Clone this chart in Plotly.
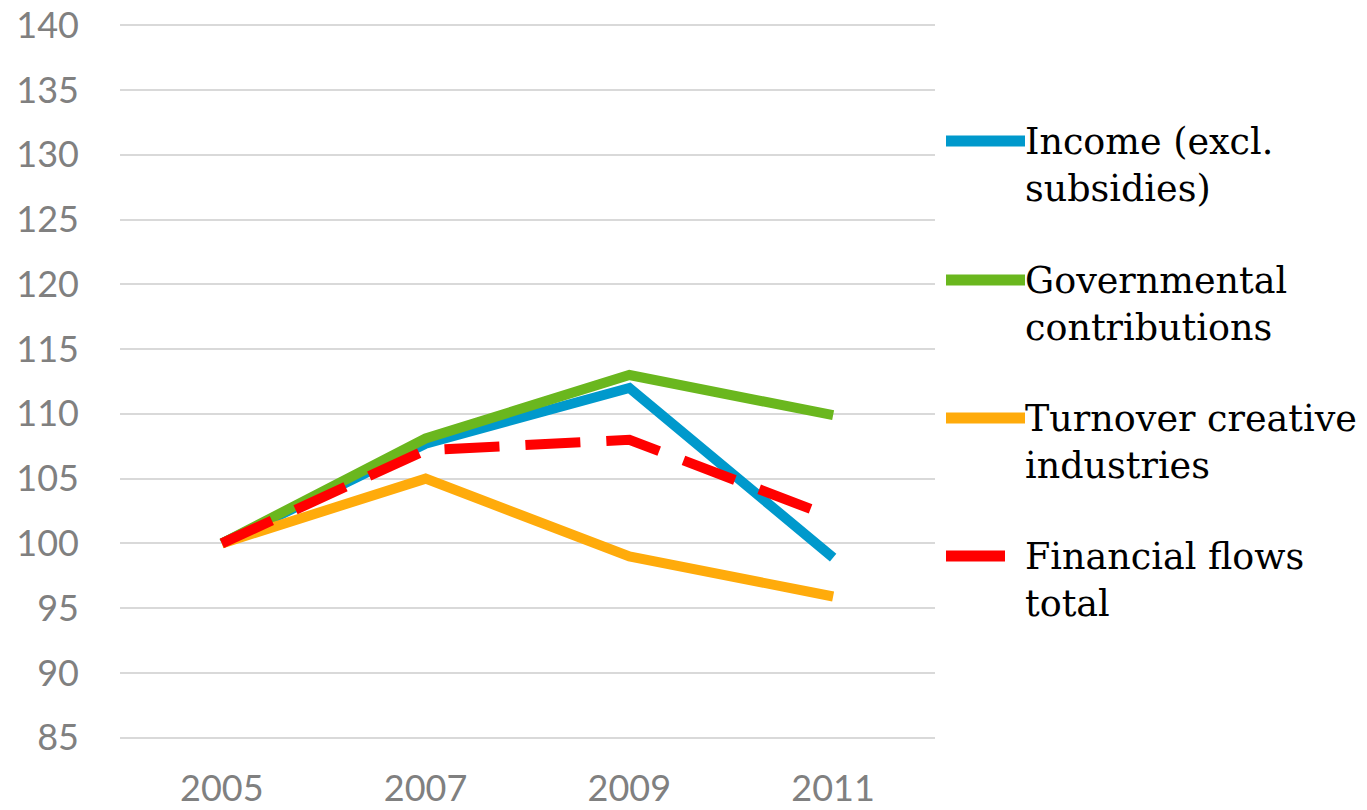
import plotly.graph_objects as go

# Index values (2005 = 100)
years = ['2005', '2007', '2009', '2011']
income = [100, 107.7, 112, 98.9]
governmental = [100, 108.1, 113, 109.9]
turnover = [100, 105, 99, 95.9]
financial_total = [100, 107.2, 108, 102]

series_names = ['Income (excl.<br>subsidies)', 'Governmental<br>contributions',
                'Turnover creative<br>industries', 'Financial flows<br>total']
series_values = [income, governmental, turnover, financial_total]
colors = ['#0099CC', '#6AB71E', '#FFAB0B', '#FF0000']
dashes = ['solid', 'solid', 'solid', '55px,26px']

# page body has an 8px margin, so the figure is drawn 8px in from the corner
OFF = 8
W, H = 1367 - OFF, 810 - OFF
L, R, T, B = 120 - OFF, 1367 - 935, 24 - OFF, 810 - 739


def px_x(x):
    return (x - OFF - L) / (W - L - R)


def px_y(y):
    return (H - B - (y - OFF)) / (H - T - B)


fig = go.Figure()
for name, vals, color, dash in zip(series_names, series_values, colors, dashes):
    fig.add_trace(go.Scatter(
        x=years, y=vals, mode='lines', name=name,
        line=dict(color=color, width=10, dash=dash),
        showlegend=False,
    ))

# Hand made legend: long line keys + two-line serif labels
legend_y = [141, 280, 418, 556]
for name, color, ly in zip(series_names, colors, legend_y):
    x_end = 1005 if color == '#FF0000' else 1025
    fig.add_shape(type='line', xref='paper', yref='paper',
                  x0=px_x(946), x1=px_x(x_end), y0=px_y(ly), y1=px_y(ly),
                  line=dict(color=color, width=11))
    fig.add_annotation(xref='paper', yref='paper', x=px_x(1023), y=px_y(ly - 23),
                       text=name, showarrow=False, xanchor='left', yanchor='top',
                       align='left',
                       font=dict(family='DejaVu Serif', size=36.5, color='#000000'))

fig.update_layout(
    width=W, height=H,
    margin=dict(l=L, r=R, t=T, b=B, autoexpand=False),
    plot_bgcolor='white', paper_bgcolor='white',
    font=dict(family='Lato', size=36, color='#808080'),
    showlegend=False,
)
fig.update_xaxes(type='category', range=[-0.5, 3.5], showgrid=False,
                 showline=False, zeroline=False, ticks='', automargin=False,
                 ticklabelstandoff=25, ticklabeloverflow='allow')
fig.update_yaxes(range=[84.9, 140.1], dtick=5, tick0=85, showgrid=True,
                 gridcolor='#D9D9D9', gridwidth=1.5, zeroline=False,
                 showline=False, ticks='', automargin=False,
                 ticklabelstandoff=40, ticklabeloverflow='allow')

fig.write_html('out.html')
